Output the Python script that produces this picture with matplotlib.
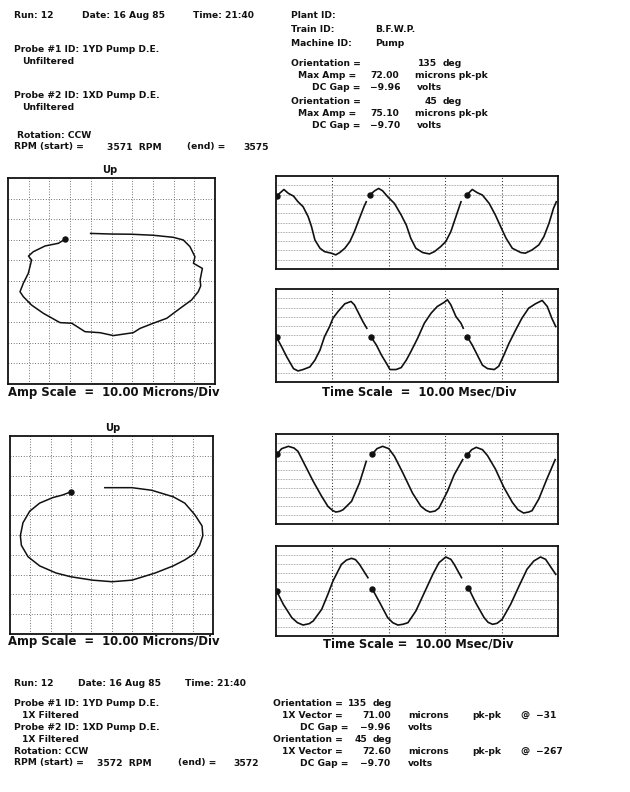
import numpy as np
import matplotlib
matplotlib.use("Agg")
import matplotlib.pyplot as plt

plt.rcParams['font.family'] = ['DejaVu Sans']

W, H = 630, 792

# ---------------- data ----------------
# Unfiltered orbit (microns): x, y ; last point is the keyphasor mark
orbit_raw_x = [-10.1, 0.1, 9.7, 20.2, 29.9, 34.7, 37.9, 40.3, 39.6, 43.9, 42.8, 43.1, 41.9, 38.7,
               33.1, 26.7, 20.2, 13.8, 10.5, 0.9, -5.5, -12.8, -19.2, -24.9, -32.9, -38.6,
               -42.6, -44.2, -42.6, -40.2, -39.4, -38.6, -40.1, -37.8, -32.1, -25.7, -22.5]
orbit_raw_y = [23.1, 22.8, 22.7, 22.2, 21.2, 19.9, 16.7, 11.8, 8.6, 6.1, 0.5, -2.4, -5.2, -9.2,
               -13.3, -18.1, -20.5, -23.0, -25.1, -26.5, -25.1, -24.6, -20.5, -20.2, -15.7, -11.7,
               -7.6, -5.2, -1.1, 3.7, 6.9, 10.2, 12.1, 14.2, 17.0, 18.3, 20.2]

# 1X filtered orbit (microns)
orbit_1x_x = [-3.3, 10.1, 19.8, 30.4, 36.1, 41.0, 44.6, 45.0, 43.4, 41.0, 36.1, 30.4, 21.5, 10.1,
              0.3, -9.4, -20.0, -27.3, -35.4, -41.1, -44.4, -44.9, -43.6, -40.3, -35.4, -28.9,
              -24.1, -20.0]
orbit_1x_y = [23.9, 23.9, 22.6, 19.3, 16.1, 10.3, 4.6, -0.3, -5.2, -9.3, -12.6, -15.6, -19.2, -22.8,
              -23.6, -22.8, -21.1, -19.2, -15.6, -11.0, -5.2, -0.3, 6.2, 12.0, 16.1, 18.9,
              20.2, 21.8]

# Time waveforms: time (ms), amplitude (microns); kp_* = indices where a new
# once-per-turn segment begins (keyphasor dot)
wave_y_raw_t = [0.1, 1.4, 2.2, 3.1, 3.9, 4.8, 5.7, 6.3, 6.9, 7.8, 8.6, 9.8, 10.6, 11.3, 12.2, 13.1,
                13.9, 14.8, 15.6, 16.0,
                16.6, 17.5, 18.2, 18.9, 19.8, 21.0, 22.2, 23.1, 23.9, 24.8, 26.0, 27.2, 28.1, 29.2,
                30.1, 31.0, 31.9, 32.8,
                33.8, 34.8, 35.7, 36.6, 37.8, 38.9, 40.1, 40.8, 41.9, 43.4, 44.2, 45.4, 46.6, 47.5,
                48.4, 49.2, 49.7]
wave_y_raw_v = [28.4, 35.5, 31.3, 28.4, 22.3, 17.0, 6.3, -4.5, -18.8, -27.7, -31.3, -33.0, -34.8,
                -32.3, -27.7, -20.5, -9.8, 4.5, 17.0, 22.3,
                29.5, 34.1, 36.6, 34.1, 27.7, 20.5, 8.0, -2.7, -17.0, -27.7, -32.3, -33.8, -31.3,
                -25.9, -20.5, -9.8, 6.3, 22.3,
                29.5, 35.5, 32.0, 29.5, 20.5, 8.0, -8.0, -17.0, -27.7, -32.3, -33.0, -29.5, -24.1,
                -15.2, -0.9, 15.2, 22.3]
kp_y_raw = [0, 20, 38]

wave_x_raw_t = [0.1, 1.0, 1.9, 3.1, 3.9, 4.8, 6.0, 6.9, 7.8, 8.6, 9.5, 10.1, 11.0, 12.2, 13.3, 13.9,
                14.5, 15.4, 16.1,
                16.9, 17.8, 18.7, 19.6, 20.2, 21.3, 22.2, 23.1, 23.9, 25.1, 26.3, 27.5, 28.6, 29.8,
                30.4, 31.0, 31.9, 32.8, 33.2,
                33.9, 34.8, 35.7, 36.6, 37.5, 38.7, 39.5, 40.4, 41.3, 42.5, 43.6, 44.8, 46.0, 47.2,
                48.1, 48.9, 49.6]
wave_x_raw_v = [-2.0, -12.1, -22.9, -35.6, -38.1, -36.6, -33.8, -26.5, -15.7, -1.3, 9.6, 18.6, 25.8,
                34.1, 36.6, 33.0, 25.8, 15.0, 7.8,
                -2.0, -10.3, -21.1, -30.1, -36.6, -36.6, -34.5, -26.5, -17.5, -3.1, 13.2, 24.0,
                31.2, 35.6, 38.4, 33.0, 20.4, 13.2, 7.8,
                -1.3, -10.3, -21.1, -31.9, -35.6, -36.6, -33.0, -21.1, -8.5, 6.0, 18.6, 29.4, 34.1,
                37.7, 31.2, 18.6, 9.6]
kp_x_raw = [0, 19, 38]

wave_y_1x_t = [0.2, 1.0, 2.2, 3.2, 3.9, 5.4, 6.6, 8.1, 9.2, 10.0, 10.6, 11.3, 11.9, 13.4, 14.8, 16.0,
               17.1, 17.9, 18.9, 20.0, 21.0, 22.5, 24.2, 25.7, 26.6, 27.3, 28.2, 28.9, 30.4, 31.6,
               33.1,
               33.9, 34.7, 35.5, 36.6, 37.5, 38.9, 40.4, 41.9, 42.9, 43.9, 44.8, 45.4, 46.6, 48.1,
               49.5]
wave_y_1x_v = [27.8, 33.7, 36.3, 34.4, 30.7, 12.2, -2.6, -19.3, -30.4, -34.8, -36.7, -35.9, -34.1,
               -24.8, -4.4, 19.6,
               27.8, 33.7, 36.3, 33.7, 25.2, 6.7, -15.6, -30.4, -34.8, -36.7, -35.6, -32.2, -13.7,
               4.8, 21.5,
               26.7, 32.6, 35.2, 32.6, 26.0, 11.1, -9.3, -25.9, -34.1, -37.8, -36.7, -35.2, -22.2,
               1.1, 21.5]
kp_y_1x = [0, 16, 31]

wave_x_1x_t = [0.1, 1.3, 2.8, 3.8, 4.8, 5.9, 6.6, 8.1, 9.2, 10.1, 11.6, 12.5, 13.4, 14.1, 14.8, 16.3,
               17.1, 18.4, 19.8, 20.7, 21.6, 22.5, 23.4, 24.8, 26.3, 27.8, 28.9, 30.1, 31.0, 31.6,
               32.9,
               34.1, 35.4, 36.9, 37.6, 38.4, 39.2, 40.1, 41.6, 43.1, 44.5, 45.7, 46.9, 47.8, 48.4,
               49.6]
wave_x_1x_v = [0.0, -14.8, -29.6, -35.2, -37.8, -36.3, -33.3, -20.4, -3.7, 11.1, 29.6, 34.4, 36.3,
               34.8, 29.6, 14.8,
               1.9, -13.0, -29.6, -35.2, -37.8, -37.0, -35.2, -22.2, -1.9, 18.5, 31.5, 37.8, 35.2,
               29.6, 14.8,
               3.7, -13.0, -29.6, -34.8, -37.0, -35.9, -31.5, -14.8, 5.6, 24.1, 33.3, 37.8, 35.2,
               29.6, 18.5]
kp_x_1x = [0, 16, 31]

orbit_div = 10.0      # microns per division
time_div = 10.0       # ms per division
amp_div = 10.0        # microns per division on the waveforms

INK = '#111111'
FS = 6.6


# ---------------- helpers ----------------
def px_rect(x0, y0, x1, y1):
    return [x0 / W, 1 - y1 / H, (x1 - x0) / W, (y1 - y0) / H]


def txt(x, y, s, ha='left', size=FS):
    fig.text(x / W, 1 - y / H, s, ha=ha, va='center', fontsize=size,
             fontweight='bold', color=INK)


def scope_axes(rect, xlim, ylim, nx, ny, orbit=False):
    ax = fig.add_axes(rect)
    ax.set_xlim(*xlim)
    ax.set_ylim(*ylim)
    xg = np.linspace(xlim[0], xlim[1], nx + 1)[1:-1]
    yg = np.linspace(ylim[0], ylim[1], ny + 1)[1:-1]
    ax.set_xticks(xg)
    ax.set_yticks(yg)
    ax.tick_params(length=0, labelbottom=False, labelleft=False)
    if orbit:
        ax.grid(True, axis='both', color='#444444', lw=0.6, ls=(0, (1, 2.2)))
    else:
        ax.grid(True, axis='x', color='#333333', lw=0.75, ls=(0, (1, 2.0)))
        ax.grid(True, axis='y', color='#666666', lw=0.5, ls=(0, (1, 1.3)))
    for sp in ax.spines.values():
        sp.set_linewidth(1.3)
        sp.set_color(INK)
    return ax


def draw_orbit(ax, xs, ys):
    ax.plot(xs, ys, color=INK, lw=1.1)
    ax.plot(xs[-1], ys[-1], 'o', color=INK, ms=3.6)


def draw_wave(ax, t, v, kp):
    bounds = list(kp) + [len(t)]
    for a, b in zip(bounds[:-1], bounds[1:]):
        ax.plot(t[a:b], v[a:b], color=INK, lw=1.2)
        ax.plot(t[a], v[a], 'o', color=INK, ms=3.6)


fig = plt.figure(figsize=(W / 100, H / 100), dpi=100)

orb_lim = (-5 * orbit_div, 5 * orbit_div)
t_lim = (0, 5 * time_div)
a_lim = (-5 * amp_div, 5 * amp_div)

# ---------------- unfiltered set ----------------
txt(14, 16, "Run: 12")
txt(82, 16, "Date: 16 Aug 85")
txt(193, 16, "Time: 21:40")
txt(291, 16, "Plant ID:")
txt(291, 30, "Train ID:")
txt(375, 30, "B.F.W.P.")
txt(291, 43, "Machine ID:")
txt(375, 43, "Pump")
txt(14, 50, "Probe #1 ID: 1YD Pump D.E.")
txt(22, 62, "Unfiltered")
txt(14, 95, "Probe #2 ID: 1XD Pump D.E.")
txt(22, 107, "Unfiltered")
txt(17, 135, "Rotation: CCW")
txt(14, 147, "RPM (start) =")
txt(107, 147, "3571  RPM")
txt(187, 147, "(end) =")
txt(243, 147, "3575")

for yy, val in [(63, "135"), (101, "45")]:
    txt(291, yy, "Orientation =")
    txt(437, yy, val, ha='right')
    txt(443, yy, "deg")
for yy, val in [(76, "72.00"), (113, "75.10")]:
    txt(298, yy, "Max Amp =")
    txt(370, yy, val)
    txt(415, yy, "microns pk-pk")
for yy, val in [(88, "\u22129.96"), (126, "\u22129.70")]:
    txt(312, yy, "DC Gap =")
    txt(370, yy, val)
    txt(417, yy, "volts")

ax = scope_axes(px_rect(8, 178, 215, 384), orb_lim, orb_lim, 10, 10, orbit=True)
draw_orbit(ax, orbit_raw_x, orbit_raw_y)
txt(110, 170, "Up", ha='center', size=7.2)
txt(8, 392, "Amp Scale  =  10.00 Microns/Div", size=8.4)

ax = scope_axes(px_rect(276, 176, 558, 269), t_lim, a_lim, 5, 10)
draw_wave(ax, wave_y_raw_t, wave_y_raw_v, kp_y_raw)
ax = scope_axes(px_rect(276, 289, 558, 382), t_lim, a_lim, 5, 10)
draw_wave(ax, wave_x_raw_t, wave_x_raw_v, kp_x_raw)
txt(419, 392, "Time Scale  =  10.00 Msec/Div", ha='center', size=8.3)

# ---------------- 1X filtered set ----------------
ax = scope_axes(px_rect(10, 436, 213, 634), orb_lim, orb_lim, 10, 10, orbit=True)
draw_orbit(ax, orbit_1x_x, orbit_1x_y)
txt(113, 428, "Up", ha='center', size=7.2)
txt(8, 642, "Amp Scale  =  10.00 Microns/Div", size=8.4)

ax = scope_axes(px_rect(276, 434, 558, 524), t_lim, a_lim, 5, 10)
draw_wave(ax, wave_y_1x_t, wave_y_1x_v, kp_y_1x)
ax = scope_axes(px_rect(276, 546, 558, 636), t_lim, a_lim, 5, 10)
draw_wave(ax, wave_x_1x_t, wave_x_1x_v, kp_x_1x)
txt(418, 644, "Time Scale =  10.00 Msec/Div", ha='center', size=8.3)

txt(14, 683, "Run: 12")
txt(78, 683, "Date: 16 Aug 85")
txt(185, 683, "Time: 21:40")
txt(14, 703, "Probe #1 ID: 1YD Pump D.E.")
txt(22, 715, "1X Filtered")
txt(14, 727, "Probe #2 ID: 1XD Pump D.E.")
txt(22, 739, "1X Filtered")
txt(14, 752, "Rotation: CCW")
txt(14, 763, "RPM (start) =")
txt(97, 763, "3572  RPM")
txt(178, 763, "(end) =")
txt(233, 763, "3572")

for yy, val in [(703, "135"), (739, "45")]:
    txt(273, yy, "Orientation =")
    txt(367, yy, val, ha='right')
    txt(373, yy, "deg")
for yy, val, phase in [(715, "71.00", "\u221231"), (752, "72.60", "\u2212267")]:
    txt(282, yy, "1X Vector =")
    txt(362, yy, val)
    txt(408, yy, "microns")
    txt(472, yy, "pk-pk")
    txt(520, yy, "@")
    txt(536, yy, phase)
for yy, val in [(727, "\u22129.96"), (763, "\u22129.70")]:
    txt(300, yy, "DC Gap =")
    txt(360, yy, val)
    txt(408, yy, "volts")

fig.savefig("out.png", dpi=100)
